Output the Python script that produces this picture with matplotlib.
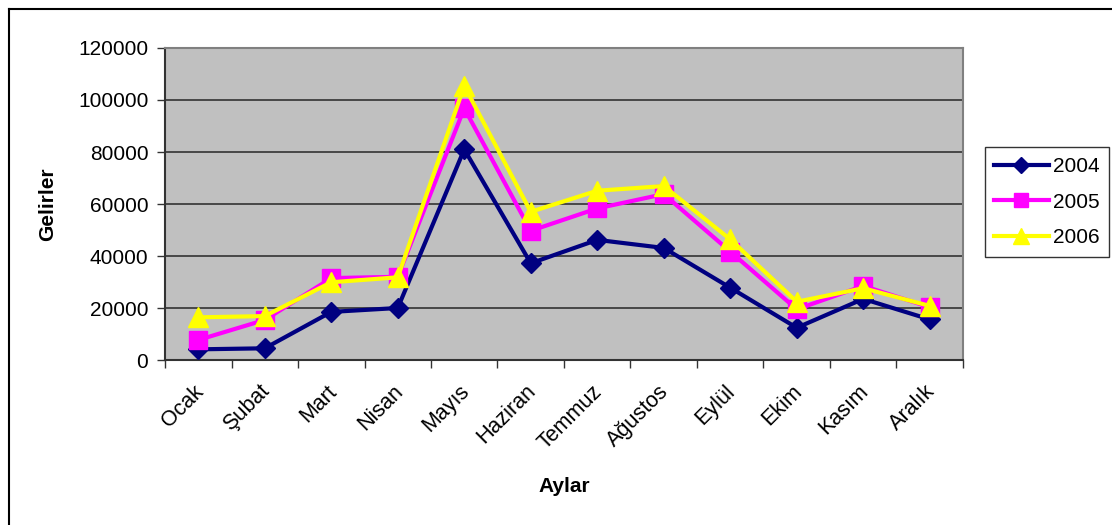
import matplotlib
matplotlib.use("Agg")
import matplotlib.pyplot as plt
from matplotlib.lines import Line2D

plt.rcParams['font.family'] = ['Liberation Sans', 'DejaVu Sans']

months = ["Ocak", "Şubat", "Mart", "Nisan", "Mayıs", "Haziran", "Temmuz",
          "Ağustos", "Eylül", "Ekim", "Kasım", "Aralık"]
s2004 = [4100, 4500, 18500, 20000, 81000, 37200, 46200, 43100, 27800, 12400, 23500, 15600]
s2005 = [7700, 15400, 31500, 32000, 96800, 49700, 58300, 63800, 41700, 19500, 28500, 20300]
s2006 = [16400, 16900, 29900, 31800, 105400, 57000, 65100, 66900, 46400, 22400, 27600, 20800]
series_names = ["2004", "2005", "2006"]
y_ticks = [0, 20000, 40000, 60000, 80000, 100000, 120000]

W, H = 1112, 525
fig = plt.figure(figsize=(W / 100, H / 100), dpi=100)
fig.patch.set_facecolor("white")
# outer chart border (only top and left edges visible in the reference)
fig.lines.append(Line2D([8.5 / W, 1.0], [1 - 8.5 / H, 1 - 8.5 / H],
                        transform=fig.transFigure, color="black", lw=1.5))
fig.lines.append(Line2D([8.5 / W, 8.5 / W], [0.0, 1 - 8.5 / H],
                        transform=fig.transFigure, color="black", lw=1.5))

ax = fig.add_axes([165 / W, (H - 360) / H, (963 - 165) / W, (360 - 48) / H])
ax.set_facecolor("#C0C0C0")

x = list(range(len(months)))
ax.plot(x, s2004, color="#000080", lw=3, marker="D", ms=10.5, label=series_names[0], zorder=3)
ax.plot(x, s2005, color="#FF00FF", lw=3, marker="s", ms=13, label=series_names[1], zorder=4)
ax.plot(x, s2006, color="#FFFF00", lw=3, marker="^", ms=15, label=series_names[2], zorder=5)

ax.set_xlim(-0.5, len(months) - 0.5)
ax.set_ylim(0, 120000)
ax.set_yticks(y_ticks)
ax.set_yticklabels([str(v) for v in y_ticks], fontsize=15)
ax.yaxis.grid(True, color="#333333", lw=1.2)
ax.set_axisbelow(True)

ax.set_xticks([i - 0.5 for i in range(len(months) + 1)])
ax.set_xticklabels([])
ax.set_xticks([i - 0.08 for i in x], minor=True)
ax.set_xticklabels(months, minor=True, rotation=45, ha="right",
                   rotation_mode="anchor", fontsize=15.5)
ax.tick_params(axis="x", which="minor", length=0, pad=15)
ax.tick_params(axis="x", which="major", length=6, width=1, color="#333333", direction="out")
ax.tick_params(axis="y", length=6, width=1, color="#333333", direction="out", pad=6)

for side in ["top", "right"]:
    ax.spines[side].set_color("#808080")
    ax.spines[side].set_linewidth(1.5)
for side in ["left", "bottom"]:
    ax.spines[side].set_color("#333333")
    ax.spines[side].set_linewidth(1.5)

ax.set_xlabel("Aylar", fontsize=15, fontweight="bold", labelpad=17)
ax.set_ylabel("Gelirler", fontsize=15, fontweight="bold", labelpad=15)

leg = ax.legend(loc="center left", bbox_to_anchor=(985 / W, (H - 202) / H),
                bbox_transform=fig.transFigure, fontsize=15, frameon=True,
                fancybox=False, edgecolor="black", handlelength=2.6,
                borderpad=0.45, labelspacing=0.8, handletextpad=0.2,
                borderaxespad=0, markerscale=0.8)
leg.get_frame().set_linewidth(1.0)

fig.savefig("out.png", dpi=100, facecolor="white")
